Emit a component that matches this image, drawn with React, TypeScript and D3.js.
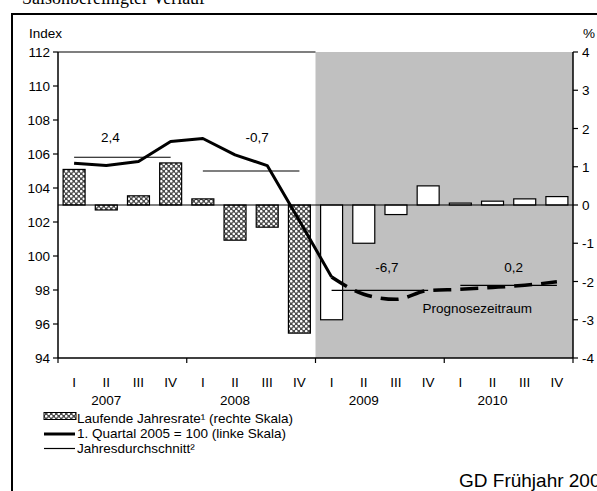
import React from "react";
import * as d3 from "d3";

// quarters 2007 I .. 2010 IV
const years = ["2007", "2008", "2009", "2010"];
const quarterNames = ["I", "II", "III", "IV"];
const quarters = years.flatMap((y) => quarterNames.map((q) => `${y}-${q}`));

// Laufende Jahresrate (right scale, %)
const rate = [0.93, -0.13, 0.24, 1.1, 0.16, -0.92, -0.58, -3.35, -3.0, -1.0, -0.25, 0.5, 0.05, 0.1, 0.16, 0.22];
// index, 1. Quartal 2005 = 100 (left scale) - actual part 2007 I .. 2009 I
const indexActual = [105.46, 105.32, 105.56, 106.74, 106.91, 105.95, 105.32, 102.08, 98.77];
// forecast part 2009 I .. 2010 IV
const indexForecast = [98.77, 97.75, 97.45, 97.97, 98.04, 98.15, 98.28, 98.48];
// Jahresdurchschnitt (left scale level) and its label
const avgLevel = [105.81, 105.0, 97.98, 98.27];
const avgLabels = ["2,4", "-0,7", "-6,7", "0,2"];
const avgLabelLevel = [106.7, 106.7, 99.05, 99.05];

const leftTicks = [94, 96, 98, 100, 102, 104, 106, 108, 110, 112];
const rightTicks = [-4, -3, -2, -1, 0, 1, 2, 3, 4];

const font = "'Liberation Sans', Arial, sans-serif";

export default function App() {
  const width = 597;
  const height = 491;
  const left = 58;
  const right = 573;
  const top = 52;
  const bottom = 358;

  const x = d3.scaleBand<string>().domain(quarters).range([left, right]).paddingInner(0.317).paddingOuter(0.1585);
  const yL = d3.scaleLinear().domain([94, 112]).range([bottom, top]);
  const yR = d3.scaleLinear().domain([-4, 4]).range([bottom, top]);
  const step = x.step();
  const cx = (i: number) => (x(quarters[i]) as number) + x.bandwidth() / 2;
  const yearStart = (k: number) => left + k * 4 * step;

  const line = d3
    .line<number>()
    .x((_, i) => cx(i))
    .y((d) => yL(d));
  const forecastLine = d3
    .line<number>()
    .x((_, i) => cx(i + 8))
    .y((d) => yL(d))
    .curve(d3.curveMonotoneX);

  const fs = 13.5;

  return (
    <svg width={width} height={height} style={{ position: "absolute", left: 0, top: 0 }} fontFamily={font}>
      <defs>
        <pattern id="hatch" width="5" height="5" patternUnits="userSpaceOnUse">
          <rect width="5" height="5" fill="#4a4a4a" />
          <circle cx="1.25" cy="1.25" r="1.3" fill="#fff" />
          <circle cx="3.75" cy="3.75" r="1.3" fill="#fff" />
        </pattern>
      </defs>
      <rect width={width} height={height} fill="#fff" />
      {/* cropped title above the frame */}
      <text x={22} y={3.5} fontFamily="'Liberation Serif', serif" fontSize={18} fill="#000">
        Saisonbereinigter Verlauf
      </text>
      <rect x={12} y={14} width={620} height={520} fill="none" stroke="#000" strokeWidth={2} />

      {/* forecast shading */}
      <rect x={yearStart(2)} y={top} width={right - yearStart(2)} height={bottom - top} fill="#c0c0c0" />
      <line x1={left} x2={yearStart(2)} y1={top} y2={top} stroke="#000" strokeWidth={1.2} />

      {/* bars */}
      {rate.map((v, i) => (
        <rect
          key={i}
          x={x(quarters[i])}
          width={x.bandwidth()}
          y={Math.min(yR(v), yR(0))}
          height={Math.abs(yR(v) - yR(0))}
          fill={i < 8 ? "url(#hatch)" : "#fff"}
          stroke="#000"
          strokeWidth={1.2}
        />
      ))}
      <line x1={left} x2={right} y1={yR(0)} y2={yR(0)} stroke="#000" strokeWidth={1.2} />

      {/* averages */}
      {avgLevel.map((v, k) => (
        <line key={k} x1={cx(k * 4)} x2={cx(k * 4 + 3)} y1={yL(v)} y2={yL(v)} stroke="#000" strokeWidth={1.2} />
      ))}
      {avgLabels.map((t, k) => (
        <text
          key={k}
          x={(cx(k * 4) + cx(k * 4 + 3)) / 2 + [-12, 6, 7, 5][k]}
          y={yL(avgLabelLevel[k])}
          textAnchor="middle"
          fontSize={fs}
        >
          {t}
        </text>
      ))}

      {/* index line */}
      <path d={line(indexActual) || ""} fill="none" stroke="#000" strokeWidth={3} strokeLinejoin="round" />
      <path
        d={forecastLine(indexForecast) || ""}
        fill="none"
        stroke="#000"
        strokeWidth={3.5}
        strokeDasharray="18,9"
      />

      <text x={(cx(11) + cx(13)) / 2 + 17} y={yL(96.65)} textAnchor="middle" fontSize={fs}>
        Prognosezeitraum
      </text>

      {/* axes */}
      <line x1={left} x2={left} y1={top} y2={bottom} stroke="#000" strokeWidth={1.5} />
      <line x1={right} x2={right} y1={top} y2={bottom} stroke="#000" strokeWidth={1.5} />
      <line x1={left} x2={right} y1={bottom} y2={bottom} stroke="#000" strokeWidth={1.5} />
      {leftTicks.map((t) => (
        <g key={t}>
          <line x1={left - 5} x2={left} y1={yL(t)} y2={yL(t)} stroke="#000" strokeWidth={1.2} />
          <text x={left - 8} y={yL(t) + 5} textAnchor="end" fontSize={fs}>
            {t}
          </text>
        </g>
      ))}
      {rightTicks.map((t) => (
        <g key={t}>
          <line x1={right} x2={right + 5} y1={yR(t)} y2={yR(t)} stroke="#000" strokeWidth={1.2} />
          <text x={right + 9} y={yR(t) + 5} fontSize={fs}>
            {t}
          </text>
        </g>
      ))}
      <text x={29} y={38} fontSize={fs}>
        Index
      </text>
      <text x={583} y={38} fontSize={fs}>
        %
      </text>
      {years.map((yr, k) => (
        <line key={yr} x1={yearStart(k)} x2={yearStart(k)} y1={bottom} y2={bottom + 5} stroke="#000" strokeWidth={1.2} />
      ))}
      <line x1={right} x2={right} y1={bottom} y2={bottom + 5} stroke="#000" strokeWidth={1.2} />
      {quarters.map((q, i) => (
        <text key={q} x={cx(i)} y={386.5} textAnchor="middle" fontSize={fs}>
          {quarterNames[i % 4]}
        </text>
      ))}
      {years.map((yr, k) => (
        <text key={yr} x={cx(k * 4 + 1)} y={405} textAnchor="middle" fontSize={fs}>
          {yr}
        </text>
      ))}

      {/* legend */}
      <rect x={44} y={412.5} width={32} height={7} fill="url(#hatch)" stroke="#000" strokeWidth={1} />
      <text x={77} y={422.5} fontSize={fs}>
        Laufende Jahresrate¹ (rechte Skala)
      </text>
      <line x1={44} x2={75} y1={434} y2={434} stroke="#000" strokeWidth={3} />
      <text x={77} y={438} fontSize={fs}>
        1. Quartal 2005 = 100 (linke Skala)
      </text>
      <line x1={44} x2={75} y1={448.5} y2={448.5} stroke="#000" strokeWidth={1.2} />
      <text x={77} y={453} fontSize={fs}>
        Jahresdurchschnitt²
      </text>

      <text x={459} y={487} fontSize={19}>
        GD Frühjahr 2009
      </text>
    </svg>
  );
}
